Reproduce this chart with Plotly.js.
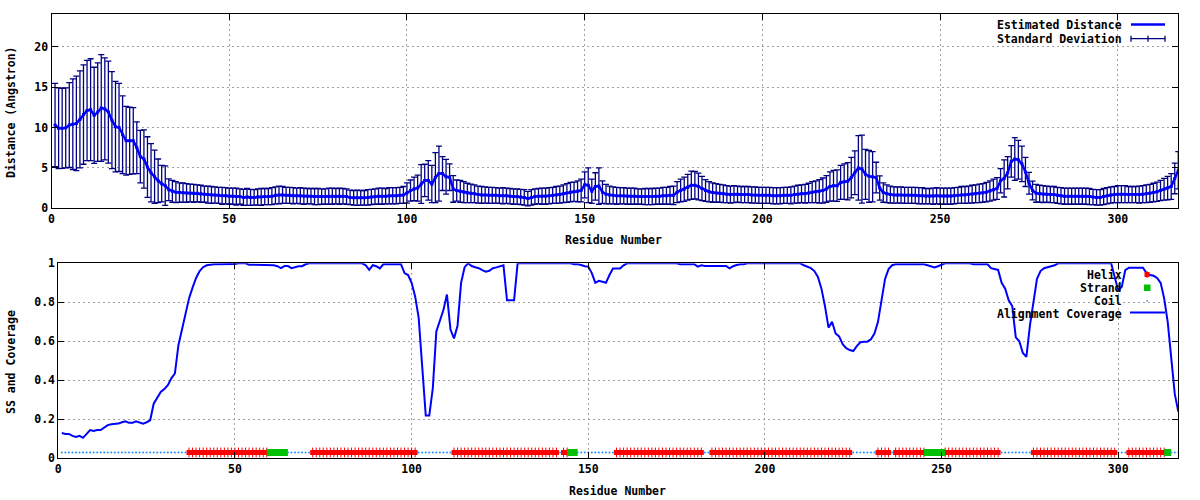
<!DOCTYPE html>
<html><head><meta charset="utf-8">
<script src="https://cdn.plot.ly/plotly-3.0.1.min.js"></script>
<style>html,body{margin:0;padding:0;background:#fff}#chart{width:1200px;height:500px}</style>
</head><body><div id="chart"></div>
<script>
// ---- data (residues 1..317) ----
const distance = [
10.3,9.9,9.9,9.95,10.3,10.4,10.5,11.0,11.6,12.1,
12.2,11.5,11.9,12.4,12.3,11.9,10.9,10.1,10.0,9.1,
8.35,8.35,8.35,7.5,6.4,6.1,5.1,4.4,3.9,3.4,
3.05,2.8,2.3,2.1,2.0,1.95,1.93,1.9,1.9,1.85,
1.85,1.8,1.75,1.7,1.65,1.65,1.6,1.55,1.55,1.5,
1.5,1.45,1.45,1.35,1.4,1.35,1.35,1.4,1.4,1.45,
1.45,1.5,1.6,1.65,1.65,1.6,1.6,1.55,1.55,1.55,
1.5,1.5,1.5,1.45,1.45,1.45,1.45,1.5,1.5,1.5,
1.5,1.5,1.45,1.35,1.3,1.3,1.3,1.3,1.35,1.4,
1.45,1.5,1.5,1.5,1.55,1.55,1.55,1.6,1.65,1.9,
2.2,2.4,2.5,3.0,3.45,3.45,3.0,3.8,4.3,4.3,
3.9,3.85,2.4,2.2,2.1,2.0,1.9,1.85,1.8,1.7,
1.65,1.65,1.6,1.6,1.6,1.55,1.55,1.55,1.5,1.45,
1.45,1.4,1.35,1.2,1.35,1.45,1.5,1.5,1.5,1.55,
1.6,1.65,1.7,1.8,1.9,2.0,2.05,2.1,2.2,2.9,
2.85,2.1,2.7,2.75,2.0,1.75,1.65,1.6,1.55,1.55,
1.55,1.5,1.5,1.5,1.45,1.45,1.45,1.45,1.45,1.5,
1.5,1.55,1.55,1.6,1.6,2.0,2.2,2.35,2.6,2.85,
2.85,2.7,2.45,2.2,2.05,1.95,1.9,1.85,1.8,1.75,
1.7,1.75,1.75,1.7,1.7,1.7,1.65,1.65,1.6,1.6,
1.6,1.6,1.55,1.55,1.55,1.6,1.6,1.6,1.7,1.75,
1.8,1.8,1.9,2.0,2.05,2.1,2.2,2.4,2.7,2.8,
2.8,3.2,3.3,3.35,3.8,4.4,5.0,4.85,4.2,3.95,
3.9,3.8,2.5,1.95,1.8,1.7,1.65,1.65,1.65,1.6,
1.6,1.6,1.6,1.55,1.55,1.5,1.5,1.5,1.55,1.5,
1.5,1.5,1.5,1.55,1.6,1.65,1.65,1.7,1.75,1.8,
1.85,1.9,2.0,2.15,2.3,2.45,3.4,3.7,4.4,5.8,
6.1,6.0,5.5,4.5,3.1,2.2,1.85,1.8,1.75,1.75,
1.7,1.7,1.6,1.55,1.5,1.5,1.5,1.5,1.5,1.5,
1.5,1.45,1.4,1.35,1.35,1.45,1.55,1.65,1.7,1.75,
1.75,1.75,1.7,1.7,1.7,1.7,1.75,1.8,1.85,1.95,
2.05,2.2,2.35,2.5,2.7,3.7,4.7
];
const stdDev = [
5.15,5.0,4.95,4.95,5.25,5.6,5.85,6.0,6.15,6.2,
6.3,5.95,6.1,6.6,6.3,6.3,6.0,5.6,5.45,4.8,
4.25,4.15,4.1,3.2,3.25,3.6,3.75,3.6,3.3,2.7,
2.25,2.45,1.35,1.35,1.3,1.2,1.2,1.15,1.1,1.1,
1.05,1.05,1.0,1.05,1.05,1.0,1.0,1.05,1.0,1.0,
1.0,1.05,0.95,1.0,1.05,1.0,0.95,1.0,1.05,1.0,
1.0,1.05,1.05,1.1,1.05,1.0,1.0,1.0,0.95,1.0,
1.0,0.95,0.95,1.0,1.0,0.95,0.95,1.0,1.0,0.95,
1.0,0.95,0.95,0.9,0.9,0.95,0.9,0.9,0.95,0.95,
0.95,1.0,1.0,0.95,1.0,1.0,1.0,1.0,1.05,1.25,
1.3,1.45,1.6,2.4,2.0,2.45,2.3,3.1,3.4,2.1,
2.15,1.65,1.65,1.3,1.35,1.3,1.2,1.15,1.1,1.05,
1.05,1.0,1.0,1.0,0.95,0.95,1.0,0.95,0.95,0.95,
0.95,0.95,0.95,0.9,0.95,0.95,0.95,1.0,1.0,1.0,
1.0,1.05,1.05,1.1,1.15,1.2,1.2,1.3,1.4,1.6,
2.15,1.5,1.7,2.25,1.4,1.2,1.1,1.05,1.05,1.0,
1.0,1.0,1.0,1.0,0.95,0.95,1.0,1.0,1.0,1.0,
1.0,1.05,1.05,1.1,1.15,1.3,1.4,1.5,1.6,1.75,
1.7,1.65,1.5,1.35,1.25,1.2,1.15,1.1,1.1,1.05,
1.05,1.05,1.0,1.0,1.0,1.0,1.0,1.0,1.0,1.0,
1.0,1.0,1.0,1.0,1.0,1.0,1.0,1.05,1.05,1.1,
1.1,1.15,1.2,1.3,1.35,1.45,1.55,1.65,1.8,1.9,
1.95,2.1,2.2,2.3,2.5,2.7,4.0,4.2,3.1,3.2,
3.1,1.9,1.5,1.2,1.1,1.05,1.0,1.0,1.0,1.0,
1.0,1.0,1.0,1.0,1.0,0.95,0.95,1.0,1.0,1.0,
1.0,1.0,1.0,1.0,1.0,1.05,1.05,1.05,1.1,1.1,
1.15,1.15,1.2,1.25,1.3,1.35,1.5,2.3,2.0,1.95,
2.65,2.4,2.2,1.8,1.35,1.15,1.1,1.05,1.05,1.0,
1.0,1.0,1.0,1.0,1.0,1.0,1.0,1.0,1.0,1.0,
1.0,1.0,0.95,0.95,0.95,1.0,1.0,1.0,1.0,1.05,
1.05,1.05,1.0,1.0,1.0,1.05,1.05,1.1,1.1,1.15,
1.2,1.25,1.35,1.45,1.6,1.9,2.3
];
const coverage = [
0.13,0.125,0.125,0.115,0.11,0.115,0.105,0.125,0.145,0.14,
0.145,0.145,0.16,0.17,0.175,0.178,0.178,0.185,0.19,0.182,
0.182,0.19,0.182,0.178,0.185,0.195,0.28,0.31,0.34,0.355,
0.375,0.41,0.435,0.58,0.66,0.75,0.82,0.875,0.925,0.96,
0.98,0.99,0.993,0.995,0.995,0.995,0.997,0.997,0.997,0.997,
1.0,1.0,1.0,0.993,0.993,0.993,0.993,0.993,0.993,0.993,
0.99,0.985,0.975,0.986,0.986,0.975,0.98,0.985,0.985,0.995,
1.0,1.0,1.0,1.0,1.0,1.0,1.0,1.0,1.0,1.0,
1.0,1.0,1.0,1.0,1.0,1.0,0.99,0.966,0.99,0.985,
0.974,0.995,0.995,0.995,0.995,0.995,0.995,0.95,0.94,0.9,
0.83,0.72,0.45,0.22,0.22,0.36,0.65,0.71,0.76,0.84,
0.66,0.615,0.68,0.9,0.98,1.0,0.986,0.98,0.975,0.965,
0.957,0.962,0.975,0.979,0.983,0.99,0.81,0.81,0.81,1.0,
1.0,1.0,1.0,1.0,1.0,1.0,1.0,1.0,1.0,1.0,
1.0,1.0,1.0,1.0,1.0,0.995,0.995,0.991,0.985,0.983,
0.95,0.9,0.91,0.905,0.9,0.94,0.973,0.973,0.973,0.99,
1.0,1.0,1.0,1.0,1.0,1.0,1.0,1.0,1.0,1.0,
1.0,1.0,1.0,1.0,1.0,0.995,0.995,0.995,0.995,0.995,
0.983,0.99,0.986,0.986,0.986,0.986,0.986,0.986,0.986,0.974,
0.985,0.991,0.995,0.995,1.0,1.0,1.0,1.0,1.0,1.0,
1.0,1.0,1.0,1.0,1.0,1.0,1.0,1.0,1.0,1.0,
0.99,0.983,0.975,0.96,0.93,0.87,0.78,0.67,0.70,0.64,
0.625,0.585,0.565,0.555,0.55,0.575,0.595,0.598,0.598,0.61,
0.64,0.7,0.82,0.92,0.97,0.99,0.995,0.995,0.995,0.995,
0.995,0.995,0.995,0.995,0.995,0.99,0.985,0.979,0.985,0.991,
1.0,1.0,1.0,1.0,1.0,1.0,1.0,1.0,0.995,0.995,
0.995,0.995,0.995,0.975,0.97,0.966,0.9,0.87,0.81,0.78,
0.62,0.6,0.54,0.52,0.68,0.8,0.92,0.96,0.975,0.98,
0.985,0.99,1.0,1.0,1.0,1.0,1.0,1.0,1.0,1.0,
1.0,1.0,1.0,1.0,1.0,1.0,1.0,1.0,0.93,0.86,
0.88,0.965,0.977,0.977,0.977,0.977,0.977,0.95,0.94,0.936,
0.925,0.9,0.82,0.7,0.52,0.33,0.24
];
// secondary structure segments [first residue, last residue]
const helixRanges  = [[37,59],[72,101],[112,141],[143,144],[158,182],[185,224],[232,235],[237,245],[251,266],[276,299],[303,313]];
const strandRanges = [[60,64],[145,146],[246,250],[314,314]];
const ssLevel = 0.03;
const xTickVals = [0,50,100,150,200,250,300];
const distTickVals = [0,5,10,15,20];
const covTickVals = [0,0.2,0.4,0.6,0.8,1];

// ---- derived ----
const residues = distance.map((_, i) => i + 1);
const ssType = residues.map(r => {
  if (strandRanges.some(([a,b]) => r >= a && r <= b)) return 'E';
  if (helixRanges.some(([a,b]) => r >= a && r <= b)) return 'H';
  return 'C';
});
const helixX = residues.filter((r,i) => ssType[i] === 'H');
const strandX = residues.filter((r,i) => ssType[i] === 'E');
const coilX = residues.filter((r,i) => ssType[i] === 'C');
const lvl = arr => arr.map(() => ssLevel);

const W = 1200, H = 500;
const px = v => v / W, py = v => 1 - v / H;

const FONT = {family: '"DejaVu Sans Mono", monospace', size: 11.5, color: '#000', weight: 'bold'};
const axisBase = {
  showline: true, linecolor: '#000', linewidth: 1, mirror: 'allticks',
  ticks: 'inside', ticklen: 6, tickwidth: 1, tickcolor: '#000',
  showgrid: true, gridcolor: '#a0a0a0', griddash: '2px,3px', gridwidth: 1,
  zeroline: false, tickfont: FONT, fixedrange: true, tickmode: 'array'
};

const traces = [
  { // standard deviation error bars
    x: residues, y: distance, xaxis: 'x', yaxis: 'y', type: 'scatter', mode: 'markers',
    marker: {size: 1, color: 'rgba(0,0,0,0)'},
    error_y: {type: 'data', array: stdDev, visible: true, color: '#000080', thickness: 1.3, width: 3},
    hoverinfo: 'skip'
  },
  { // estimated distance
    x: residues, y: distance, xaxis: 'x', yaxis: 'y', type: 'scatter', mode: 'lines+markers',
    line: {color: '#0000ff', width: 2.5}, marker: {symbol: 'square', size: 3, color: '#0000ff'}
  },
  { // helix body
    x: helixX, y: lvl(helixX), xaxis: 'x2', yaxis: 'y2', type: 'scatter', mode: 'markers',
    marker: {symbol: 'square', size: 5, color: '#ff0000', line: {width: 0}}
  },
  { // helix ticks
    x: helixX, y: lvl(helixX), xaxis: 'x2', yaxis: 'y2', type: 'scatter', mode: 'markers',
    marker: {symbol: 'line-ns', size: 7, color: '#ff0000', line: {width: 1, color: '#ff0000'}}
  },
  { // strand
    x: strandX, y: lvl(strandX), xaxis: 'x2', yaxis: 'y2', type: 'scatter', mode: 'markers',
    marker: {symbol: 'square', size: 7, color: '#00c000', line: {width: 0}}
  },
  { // coil
    x: coilX, y: lvl(coilX), xaxis: 'x2', yaxis: 'y2', type: 'scatter', mode: 'markers',
    marker: {symbol: 'circle', size: 2, color: '#1e90ff', line: {width: 0}}
  },
  { // alignment coverage
    x: residues, y: coverage, xaxis: 'x2', yaxis: 'y2', type: 'scatter', mode: 'lines',
    line: {color: '#0000ff', width: 2}
  }
];

const ann = (text, x, y, opts = {}) => Object.assign({
  text, x: px(x), y: py(y), xref: 'paper', yref: 'paper', showarrow: false,
  font: FONT, xanchor: 'right', yanchor: 'middle'
}, opts);

const annotations = [
  ann('Residue Number', 613, 240, {xanchor: 'center'}),
  ann('Residue Number', 617, 491, {xanchor: 'center'}),
  ann('Distance (Angstron)', 11, 112, {xanchor: 'center', textangle: -90}),
  ann('SS and Coverage', 11, 362, {xanchor: 'center', textangle: -90}),
  ann('Estimated Distance', 1124, 25),
  ann('Standard Deviation', 1124, 39),
  ann('Helix', 1124, 274.5),
  ann('Strand', 1124, 288),
  ann('Coil', 1124, 301),
  ann('Alignment Coverage', 1124, 314)
];

const rect = (x0, y0, x1, y1, color, layer = 'above') => ({
  type: 'rect', xref: 'paper', yref: 'paper', x0: px(x0), x1: px(x1), y0: py(y1), y1: py(y0),
  fillcolor: color, line: {width: 0}, layer
});
const seg = (x0, y0, x1, y1, color, width) => ({
  type: 'line', xref: 'paper', yref: 'paper', x0: px(x0), x1: px(x1), y0: py(y0), y1: py(y1),
  line: {color, width}
});

const shapes = [
  // legend backgrounds hide the grid
  rect(990, 15, 1177.5, 45.5, '#ffffff', 'between'),
  rect(997, 264, 1177.5, 321.5, '#ffffff', 'between'),
  // top legend samples
  seg(1131, 24.5, 1165, 24.5, '#0000ff', 2.5),
  seg(1131, 38.7, 1165, 38.7, '#000080', 1.3),
  seg(1131, 35.7, 1131, 41.7, '#000080', 1.3),
  seg(1165, 35.7, 1165, 41.7, '#000080', 1.3),
  seg(1148, 35.7, 1148, 41.7, '#000080', 1.3),
  // bottom legend samples
  rect(1144.5, 272, 1149.5, 277, '#ff0000'),
  seg(1147, 271, 1147, 278, '#ff0000', 1),
  rect(1144, 284.5, 1150.5, 291, '#00c000'),
  rect(1146.5, 300, 1148, 301.5, '#1e90ff'),
  seg(1130, 312.5, 1165, 312.5, '#0000ff', 2)
];

const layout = {
  width: W, height: H, margin: {l: 0, r: 0, t: 0, b: 0},
  paper_bgcolor: '#ffffff', plot_bgcolor: '#ffffff', showlegend: false,
  xaxis: Object.assign({}, axisBase, {domain: [px(51.5), px(1178.3)], range: [0, 317], tickvals: xTickVals, anchor: 'y'}),
  yaxis: Object.assign({}, axisBase, {domain: [py(208.3), py(14.3)], range: [0, 24], tickvals: distTickVals, anchor: 'x'}),
  xaxis2: Object.assign({}, axisBase, {domain: [px(58.3), px(1178.3)], range: [0, 317], tickvals: xTickVals, anchor: 'y2'}),
  yaxis2: Object.assign({}, axisBase, {domain: [py(458.3), py(263.3)], range: [0, 1], tickvals: covTickVals, anchor: 'x2'}),
  annotations, shapes
};

Plotly.newPlot('chart', traces, layout, {staticPlot: true, displayModeBar: false});
</script>
</body></html>
